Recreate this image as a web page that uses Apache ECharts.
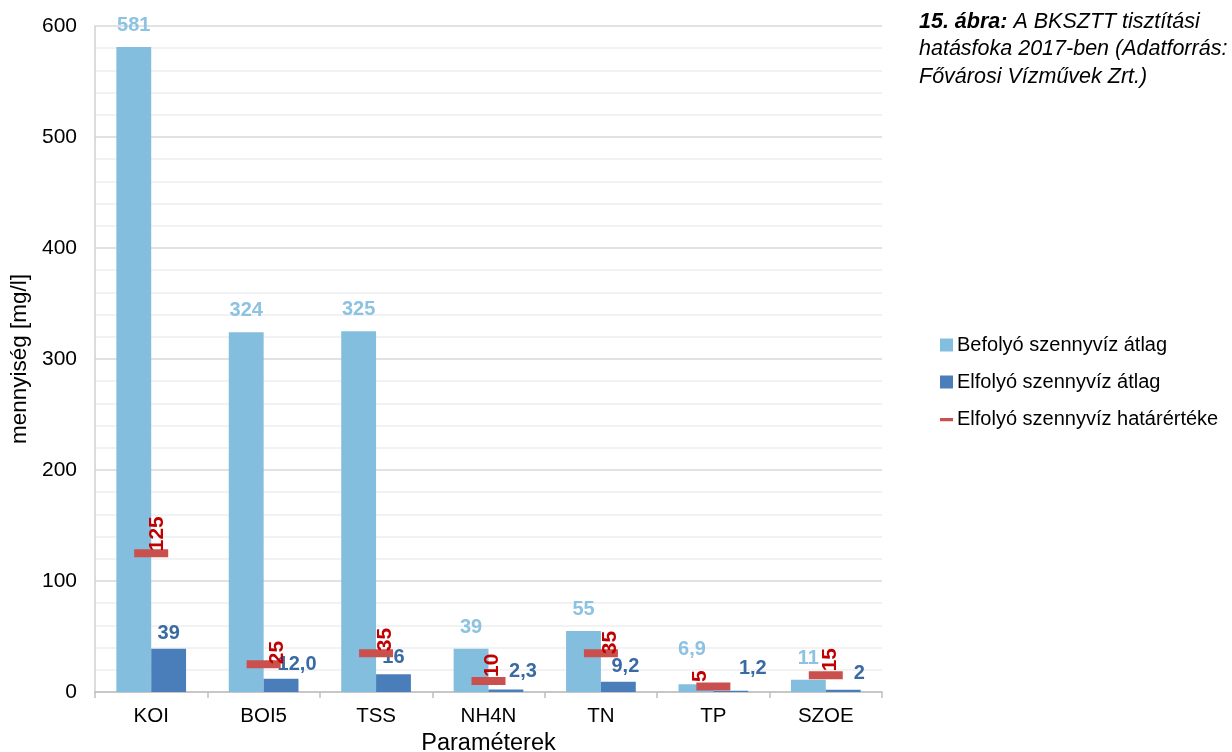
<!DOCTYPE html>
<html><head><meta charset="utf-8">
<script src="https://cdn.jsdelivr.net/npm/echarts@6/dist/echarts.min.js"></script>
<style>html,body{margin:0;padding:0;background:#fff}#c{width:1232px;height:752px}</style>
</head><body><div id="c"></div>
<script>
const categories = ['KOI','BOI5','TSS','NH4N','TN','TP','SZOE'];
const inflowAvg = [581, 324, 325, 39, 55, 6.9, 11];
const outflowAvg = [39, 12.0, 16, 2.3, 9.2, 1.2, 2];
const outflowLimit = [125, 25, 35, 10, 35, 5, 15];
const inflowLabels = ['581','324','325','39','55','6,9','11'];
const outflowLabels = ['39','12,0','16','2,3','9,2','1,2','2'];
const limitLabels = ['125','25','35','10','35','5','15'];
const yTicks = [0,100,200,300,400,500,600];

const LIGHT = '#84bede', DARK = '#4a7ebb', RED = '#c9504d';
const FONT = 'Liberation Sans, Arial, sans-serif';

// label placement tweaks (style, not data), screen [dx, dy]
const inflowShift = [[0,1],[0,1],[0,1],[0,2],[0,2],[-4,-12],[0,2]];
const outflowShift = [[0,1],[16,2],[0,-1],[17,-2],[7,1],[22,-6],[16,0]];
const limitScreenShift = [[6,4],[14,6],[9,4],[4,2],[9,7],[-13,1.5],[4,2]];

const chart = echarts.init(document.getElementById('c'), null, {renderer:'canvas'});
chart.setOption({
  animation:false,
  textStyle:{fontFamily:FONT},
  title:{
    left:914, top:3,
    text:'{b|15. ábra:} A BKSZTT tisztítási\nhatásfoka 2017-ben (Adatforrás:\nFővárosi Vízművek Zrt.)',
    textStyle:{fontFamily:FONT, fontStyle:'italic', fontWeight:'normal', fontSize:21.5, lineHeight:27.5, color:'#000',
      rich:{b:{fontFamily:FONT, fontStyle:'italic', fontWeight:'bold', fontSize:21.5, lineHeight:27.5, color:'#000'}}}
  },
  legend:{
    orient:'vertical', left:935, top:330, itemGap:17, itemWidth:13, itemHeight:13,
    textStyle:{fontFamily:FONT, fontSize:20, color:'#000', padding:[0,0,0,-1]},
    data:[
      {name:'Befolyó szennyvíz átlag', icon:'rect'},
      {name:'Elfolyó szennyvíz átlag', icon:'rect'},
      {name:'Elfolyó szennyvíz határértéke', icon:'path://M0,0 L0.01,0 Z M0,5 L12,5 L12,8 L0,8 Z M12,12 L11.99,12 Z'}
    ]
  },
  grid:{left:95, right:350, top:26, bottom:60, containLabel:false, outerBoundsMode:'none'},
  xAxis:{
    type:'category', data:categories,
    name:'Paraméterek', nameLocation:'middle', nameGap:36,
    nameTextStyle:{fontFamily:FONT, fontSize:23.5, color:'#000'},
    axisLine:{lineStyle:{color:'#bfbfbf', width:1.5}},
    axisTick:{show:true, length:6, lineStyle:{color:'#bfbfbf', width:1.5}},
    axisLabel:{fontFamily:FONT, fontSize:20.5, color:'#000', margin:14}
  },
  yAxis:{
    type:'value', min:yTicks[0], max:yTicks[yTicks.length-1], interval:100,
    name:'mennyiség [mg/l]', nameLocation:'middle', nameGap:64,
    nameTextStyle:{fontFamily:FONT, fontSize:22.5, color:'#000'},
    axisLine:{show:true, lineStyle:{color:'#d0d0d0', width:1.5}},
    axisTick:{show:false},
    axisLabel:{fontFamily:FONT, fontSize:21, color:'#000', margin:18},
    splitLine:{lineStyle:{color:'#d9d9d9', width:1.5}},
    minorTick:{show:false, splitNumber:5},
    minorSplitLine:{show:true, lineStyle:{color:'#eeeeee', width:1.5}}
  },
  series:[
    {
      name:'Befolyó szennyvíz átlag', type:'bar', barGap:'0%', barCategoryGap:'38%',
      itemStyle:{color:LIGHT},
      data:inflowAvg.map((v,i)=>({value:v, label:{offset:inflowShift[i]}})),
      label:{show:true, position:'top', distance:13, fontFamily:FONT, fontSize:20, fontWeight:'bold', color:'#8cc2e2',
        formatter:p=>inflowLabels[p.dataIndex]}
    },
    {
      name:'Elfolyó szennyvíz átlag', type:'bar',
      itemStyle:{color:DARK},
      data:outflowAvg.map((v,i)=>({value:v, label:{offset:outflowShift[i]}})),
      label:{show:true, position:'top', distance:6, fontFamily:FONT, fontSize:20, fontWeight:'bold', color:'#3a6aa3',
        formatter:p=>outflowLabels[p.dataIndex]}
    },
    {
      name:'Elfolyó szennyvíz határértéke', type:'scatter', z:5,
      symbol:'rect', symbolSize:[34,8],
      itemStyle:{color:RED, opacity:1},
      // offset is applied in the rotated label frame: [-dy, dx]
      data:outflowLimit.map((v,i)=>({value:v, label:{offset:[-limitScreenShift[i][1], limitScreenShift[i][0]]}})),
      label:{show:true, position:'top', distance:2, rotate:90, align:'left', verticalAlign:'middle',
        fontFamily:FONT, fontSize:21, fontWeight:'bold', color:'#c00000',
        formatter:p=>limitLabels[p.dataIndex]}
    }
  ]
});
</script></body></html>
